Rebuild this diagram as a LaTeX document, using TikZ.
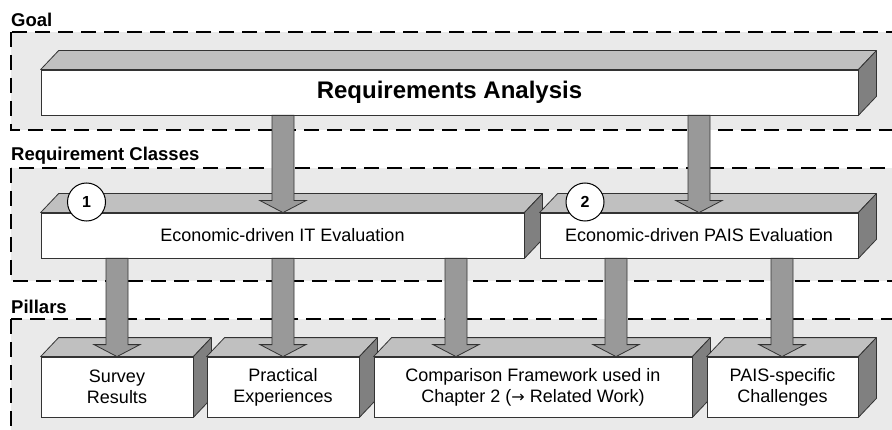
\documentclass[tikz,border=0pt]{standalone}
\usepackage{fontspec}
\setmainfont{Liberation Sans}
\newfontfamily\dejavu{DejaVu Sans}
\usetikzlibrary{calc}
\definecolor{panelgray}{HTML}{EAEAEA}
\definecolor{topgray}{HTML}{C0C0C0}
\definecolor{sidegray}{HTML}{808080}
\definecolor{arrowgray}{HTML}{999999}
\definecolor{edgegray}{HTML}{333333}
\newcommand\boxfaces[1]{%
  \filldraw[fill=topgray,draw=edgegray,line width=0.8pt,line join=round]
    (#1.north west) -- ++(18,19) -- ($(#1.north east)+(18,19)$) -- (#1.north east) -- cycle;
  \filldraw[fill=sidegray,draw=edgegray,line width=0.8pt,line join=round]
    (#1.north east) -- ++(18,19) -- ($(#1.south east)+(18,19)$) -- (#1.south east) -- cycle;
}
\newcommand\blockarrow[3]{%
  \filldraw[fill=arrowgray,draw=edgegray,line width=0.8pt,line join=miter]
    let \p1=(#1.south), \p2=(#2.north) in
    ({#3pt-11pt},\y1) -- ({#3pt+11pt},\y1) -- ({#3pt+11pt},\y2+12pt) -- ({#3pt+23pt},\y2+12pt)
    -- (#3pt,\y2) -- ({#3pt-23pt},\y2+12pt) -- ({#3pt-11pt},\y2+12pt) -- cycle;
}
\begin{document}
\begin{tikzpicture}[x=1pt,y=1pt,
  panel/.style={fill=panelgray,draw=black,line width=1.6pt,dash pattern=on 15pt off 8pt},
  grouplabel/.style={anchor=base west,inner sep=0pt,font=\fontsize{18.5}{20}\selectfont\bfseries},
  front/.style={draw=edgegray,fill=white,line width=0.8pt,inner sep=0pt,align=center,
    font=\fontsize{18}{21}\selectfont},
  numcircle/.style={circle,draw=black,fill=white,line width=1pt,minimum size=38pt,inner sep=0pt,
    font=\fontsize{16}{16}\selectfont\bfseries}]
\useasboundingbox (0,0) rectangle (892,429);
\clip (0,0) rectangle (892,429);
% panels
\draw[panel] (11,397) rectangle (910,299);
\draw[panel] (11,261) rectangle (910,148);
\draw[panel] (11,110) rectangle (910,-20);
\node[grouplabel] (lgoal) at (11,402) {Goal};
\node[grouplabel] (lclasses) at (11,268) {Requirement Classes};
\node[grouplabel] (lpillars) at (11,116) {Pillars};
% boxes
\node[front,minimum width=817pt,minimum height=45pt,font=\fontsize{24}{26}\selectfont\bfseries] (ra) at (449.5,336.5) {Requirements Analysis};
\boxfaces{ra}
\node[front,minimum width=483pt,minimum height=45pt] (it) at (282.5,193.5) {Economic-driven IT Evaluation};
\boxfaces{it}
\node[front,minimum width=318pt,minimum height=45pt] (pais) at (699,193.5) {Economic-driven PAIS Evaluation};
\boxfaces{pais}
\node[numcircle] (n1) at (86.5,227) {1};
\node[numcircle] (n2) at (585,227) {2};
\node[front,minimum width=152pt,minimum height=60pt] (sr) at (117,42) {Survey\\Results};
\boxfaces{sr}
\node[front,minimum width=152pt,minimum height=60pt] (pe) at (283,42) {Practical\\Experiences};
\boxfaces{pe}
\node[front,minimum width=318pt,minimum height=60pt] (cf) at (533,42) {Comparison Framework used in\\Chapter 2 ({\dejavu\fontsize{16}{21}\selectfont →} Related Work)};
\boxfaces{cf}
\node[front,minimum width=151pt,minimum height=60pt] (pc) at (782.5,42) {PAIS-specific\\Challenges};
\boxfaces{pc}
% arrows
\blockarrow{ra}{it}{283}
\blockarrow{ra}{pais}{699}
\blockarrow{it}{sr}{117}
\blockarrow{it}{pe}{283}
\blockarrow{it}{cf}{456}
\blockarrow{pais}{cf}{616}
\blockarrow{pais}{pc}{782}
\end{tikzpicture}
\end{document}
